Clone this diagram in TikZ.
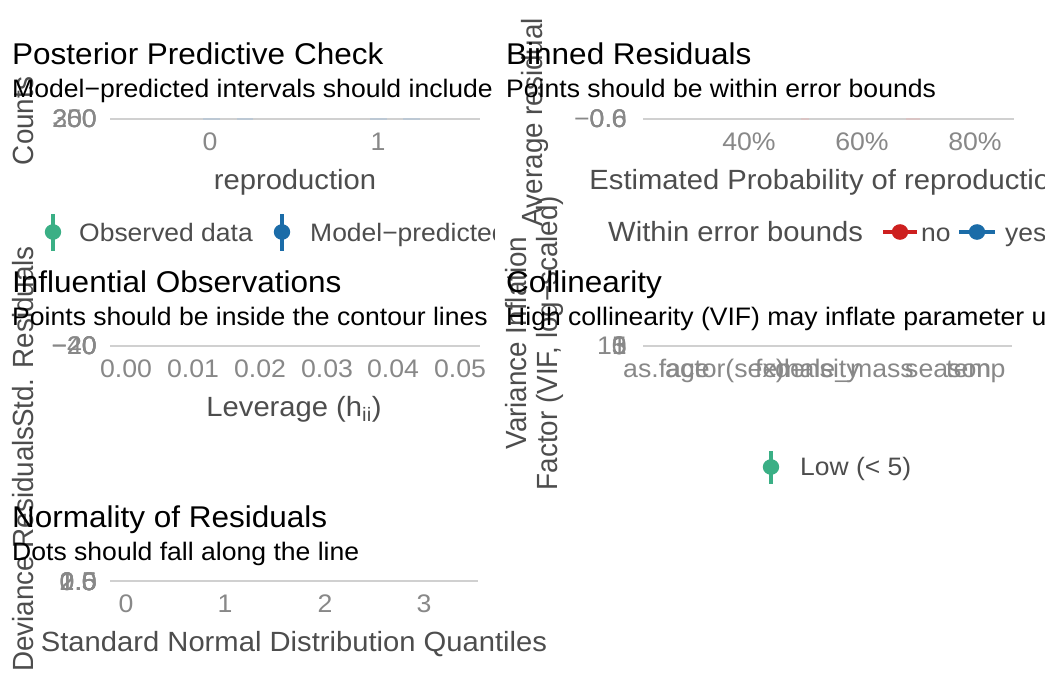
\documentclass[tikz,border=0pt]{standalone}
\usepackage{fontspec}
\setmainfont{Liberation Sans}
\definecolor{gridc}{RGB}{208,208,208}
\definecolor{tickc}{RGB}{136,136,136}
\definecolor{axc}{RGB}{77,77,77}
\definecolor{pgreen}{RGB}{58,175,133}
\definecolor{pblue}{RGB}{27,108,168}
\definecolor{pred}{RGB}{205,32,31}
\definecolor{fblue}{RGB}{188,200,212}
\definecolor{fred}{RGB}{218,196,196}
\tikzset{
  ttl/.style={anchor=base west, inner sep=0pt, font=\fontsize{30}{36}\selectfont, text=black},
  sub/.style={anchor=base west, inner sep=0pt, font=\fontsize{25.3}{30}\selectfont, text=black},
  axt/.style={inner sep=0pt, font=\fontsize{27.8}{33}\selectfont, text=axc},
  vaxt/.style={axt, rotate=90, anchor=base},
  tck/.style={inner sep=0pt, font=\fontsize{25.4}{30}\selectfont, text=tickc},
  ytck/.style={tck, anchor=base east},
  xtck/.style={tck, anchor=base},
  leg/.style={anchor=base west, inner sep=0pt, font=\fontsize{25.2}{30}\selectfont, text=axc},
  legt/.style={anchor=base west, inner sep=0pt, font=\fontsize{27.8}{33}\selectfont, text=axc},
  gridln/.style={draw=gridc, line width=1.6pt},
  keyline/.style={line width=4.2pt},
}
\begin{document}
\begin{tikzpicture}[x=1pt,y=-1pt]
\useasboundingbox (0,0) rectangle (1045,677);
\fill[white] (0,0) rectangle (1045,677);
\clip (0,0) rectangle (1045,677);
\begin{scope}[xscale=1.05, transform shape, x=0.952381pt]

% ---------------- Panel 1: Posterior Predictive Check
\begin{scope}
\clip (0,0) rectangle (494,677);
\node[vaxt] (p1yt) at (34,121) {Counts};
\node[ytck] (p1ya) at (97,128) {200};
\node[ytck] (p1yb) at (97,128) {300};
\node[ytck] (p1yc) at (97,128) {250};
\draw[gridln] (110,119) -- (480,119);
\draw[fblue, line width=1.6pt] (203,119) -- (220,119) (237,119) -- (253,119) (370,119) -- (387,119) (403,119) -- (420,119);
\node[xtck] (p1x0) at (210,150) {0};
\node[xtck] (p1x1) at (378,150) {1};
\node[axt, anchor=base] (p1xt) at (295,189) {reproduction};
\node[ttl] (p1ti) at (12,65) {Posterior Predictive Check};
\node[sub] (p1su) at (12,98) {Model−predicted intervals should include observed data points};
\draw[pgreen, keyline] (53,214) -- (53,251);
\fill[pgreen] (53,232) circle[radius=7.8pt];
\node[leg] (p1l1) at (79,241) {Observed data};
\draw[pblue, keyline] (282,214) -- (282,251);
\fill[pblue] (282,232) circle[radius=7.8pt];
\node[leg] (p1l2) at (310,241) {Model−predicted data};
\end{scope}

% ---------------- Panel 2: Binned Residuals
\node[vaxt] (p2yt) at (542,122) {Average residual};
\node[ytck] (p2ya) at (627,128) {−0.6};
\node[ytck] (p2yb) at (627,128) {0.0};
\node[ytck] (p2yc) at (627,128) {0.6};
\draw[gridln] (643,119) -- (1014,119);
\draw[fred, line width=1.6pt] (801,119) -- (809,119) (906,119) -- (920,119);
\node[xtck] (p2x1) at (749,150) {40\%};
\node[xtck] (p2x2) at (862,150) {60\%};
\node[xtck] (p2x3) at (975,150) {80\%};
\node[axt, anchor=base] (p2xt) at (828,189) {Estimated Probability of reproduction};
\node[ttl] (p2ti) at (506,65) {Binned Residuals};
\node[sub] (p2su) at (506,98) {Points should be within error bounds};
\node[legt] (p2lt) at (608,241) {Within error bounds};
\draw[pred, keyline] (883,232) -- (917,232);
\fill[pred] (900,232) circle[radius=7.8pt];
\node[leg] (p2l1) at (921,241) {no};
\draw[pblue, keyline] (959,232) -- (995,232);
\fill[pblue] (977,232) circle[radius=7.8pt];
\node[leg] (p2l2) at (1005,241) {yes};

% ---------------- Panel 3: Influential Observations
\node[vaxt] (p3yt) at (34,337) {Std. Residuals};
\node[ytck] (p3ya) at (97,354) {−40};
\node[ytck] (p3yb) at (97,354) {−20};
\node[ytck] (p3yc) at (97,354) {0};
\node[ytck] (p3yd) at (97,354) {20};
\draw[gridln] (110,346) -- (480,346);
\node[xtck] (p3x0) at (126,377) {0.00};
\node[xtck] (p3x1) at (193,377) {0.01};
\node[xtck] (p3x2) at (260,377) {0.02};
\node[xtck] (p3x3) at (327,377) {0.03};
\node[xtck] (p3x4) at (393,377) {0.04};
\node[xtck] (p3x5) at (460,377) {0.05};
\node[axt, anchor=base] (p3xt) at (294,416) {Leverage (h\textsubscript{ii})};
\node[ttl] (p3ti) at (12,292) {Influential Observations};
\node[sub] (p3su) at (12,325) {Points should be inside the contour lines};

% ---------------- Panel 4: Collinearity
\node[vaxt] (p4yt1) at (526,343) {Variance Inflation};
\node[vaxt] (p4yt2) at (557,343) {Factor (VIF, log−scaled)};
\node[ytck] (p4ya) at (627,354) {1};
\node[ytck] (p4yb) at (627,354) {3};
\node[ytck] (p4yc) at (627,354) {5};
\node[ytck] (p4yd) at (627,354) {10};
\draw[gridln] (643,346) -- (1012,346);
\node[tck, anchor=base west] (p4x1) at (623,377) {as.factor(sex)};
\node[tck, anchor=base west] (p4x2) at (665,377) {age};
\node[tck, anchor=base west] (p4x3) at (775,377) {density};
\node[tck, anchor=base west] (p4x4) at (755,377) {female\_mass};
\node[tck, anchor=base west] (p4x5) at (905,377) {season};
\node[tck, anchor=base west] (p4x6) at (946,377) {temp};
\draw[pgreen, keyline] (771,451) -- (771,484);
\fill[pgreen] (771,467) circle[radius=7.8pt];
\node[leg] (p4l1) at (800,475) {Low (< 5)};
\node[ttl] (p4ti) at (506,292) {Collinearity};
\node[sub] (p4su) at (506,325) {High collinearity (VIF) may inflate parameter uncertainty};

% ---------------- Panel 5: Normality of Residuals
\node[vaxt] (p5yt) at (34,549) {Deviance Residuals};
\node[ytck] (p5ya) at (97,590) {0.0};
\node[ytck] (p5yb) at (97,590) {0.5};
\node[ytck] (p5yc) at (97,590) {1.0};
\node[ytck] (p5yd) at (97,590) {1.5};
\node[ytck] (p5ye) at (97,590) {2.0};
\node[ytck] (p5yf) at (97,590) {2.5};
\draw[gridln] (110,581) -- (478,581);
\node[xtck] (p5x0) at (126,612) {0};
\node[xtck] (p5x1) at (225,612) {1};
\node[xtck] (p5x2) at (325,612) {2};
\node[xtck] (p5x3) at (424,612) {3};
\node[axt, anchor=base] (p5xt) at (294,651) {Standard Normal Distribution Quantiles};
\node[ttl] (p5ti) at (12,527) {Normality of Residuals};
\node[sub] (p5su) at (12,560) {Dots should fall along the line};

\end{scope}
\end{tikzpicture}
\end{document}
